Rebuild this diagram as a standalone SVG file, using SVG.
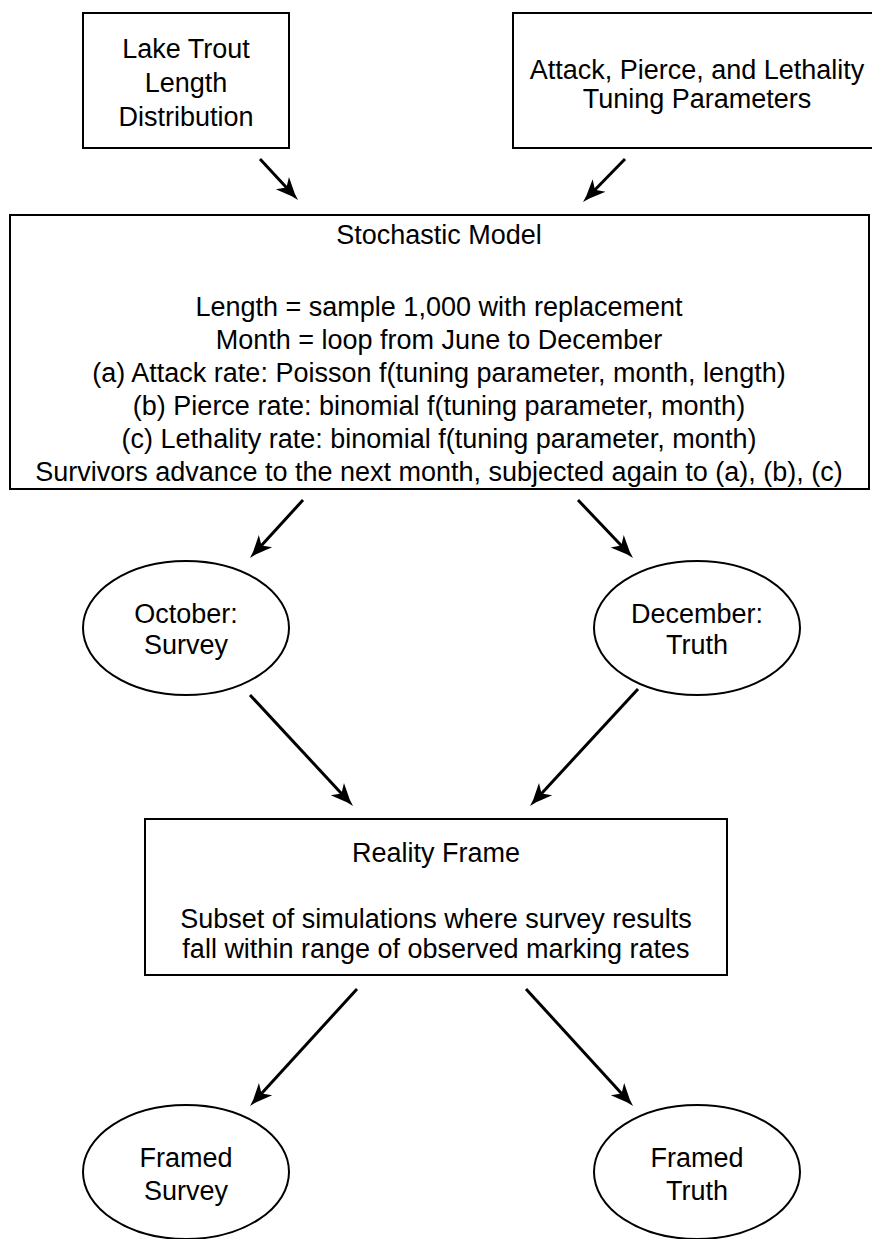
<svg xmlns="http://www.w3.org/2000/svg" width="872" height="1239" viewBox="0 0 872 1239">
<style>
.box{fill:#fff;stroke:#000;stroke-width:2}
.ell{fill:#fff;stroke:#000;stroke-width:2}
.t{font-family:"Liberation Sans",Arial,sans-serif;font-size:27px;fill:#000;text-anchor:middle}
.c{stroke:#000;stroke-width:3;fill:none;marker-end:url(#ah)}
</style>
<defs>
<marker id="ah" markerUnits="userSpaceOnUse" markerWidth="40" markerHeight="24" viewBox="-12 -12 40 24" refX="0" refY="0" orient="auto" overflow="visible">
<path d="M14,0 L7,-2 L-9,-9 L-3,0 L-9,9 L7,2 Z" fill="#000"/>
</marker>
</defs>
<rect width="872" height="1239" fill="#fff"/>
<g id="lake-trout">
<rect class="box" x="83" y="13" width="206" height="135"/>
<text class="t" x="186" y="58">Lake Trout</text>
<text class="t" x="186" y="92">Length</text>
<text class="t" x="186" y="126">Distribution</text>
</g>
<g id="tuning">
<rect class="box" x="513" y="13" width="368" height="135"/>
<text class="t" x="697" y="79">Attack, Pierce, and Lethality</text>
<text class="t" x="697" y="108">Tuning Parameters</text>
</g>
<g id="stochastic">
<rect class="box" x="10" y="215" width="859" height="274"/>
<text class="t" x="439" y="244">Stochastic Model</text>
<text class="t" x="439" y="316">Length = sample 1,000 with replacement</text>
<text class="t" x="439" y="349">Month = loop from June to December</text>
<text class="t" x="439" y="382">(a) Attack rate: Poisson f(tuning parameter, month, length)</text>
<text class="t" x="439" y="415">(b) Pierce rate: binomial f(tuning parameter, month)</text>
<text class="t" x="439" y="448">(c) Lethality rate: binomial f(tuning parameter, month)</text>
<text class="t" x="439" y="481">Survivors advance to the next month, subjected again to (a), (b), (c)</text>
</g>
<g id="october">
<ellipse class="ell" cx="186" cy="628" rx="103" ry="67"/>
<text class="t" x="186" y="623">October:</text>
<text class="t" x="186" y="654">Survey</text>
</g>
<g id="december">
<ellipse class="ell" cx="697" cy="628" rx="103" ry="67"/>
<text class="t" x="697" y="623">December:</text>
<text class="t" x="697" y="654">Truth</text>
</g>
<g id="reality">
<rect class="box" x="145" y="819" width="582" height="156"/>
<text class="t" x="436" y="862">Reality Frame</text>
<text class="t" x="436" y="928">Subset of simulations where survey results</text>
<text class="t" x="436" y="958">fall within range of observed marking rates</text>
</g>
<g id="framed-survey">
<ellipse class="ell" cx="186" cy="1172" rx="103" ry="67"/>
<text class="t" x="186" y="1167">Framed</text>
<text class="t" x="186" y="1200">Survey</text>
</g>
<g id="framed-truth">
<ellipse class="ell" cx="697" cy="1172" rx="103" ry="67"/>
<text class="t" x="697" y="1167">Framed</text>
<text class="t" x="697" y="1200">Truth</text>
</g>
<g id="connectors">
<line class="c" x1="260" y1="159" x2="288.5" y2="189.7"/>
<line class="c" x1="625" y1="159" x2="592.8" y2="192"/>
<line class="c" x1="303" y1="500" x2="259.4" y2="547.7"/>
<line class="c" x1="578" y1="500" x2="623.4" y2="547.8"/>
<line class="c" x1="250" y1="695" x2="343.5" y2="795.7"/>
<line class="c" x1="638" y1="689" x2="539.5" y2="795.7"/>
<line class="c" x1="357" y1="989" x2="259.5" y2="1095.7"/>
<line class="c" x1="526" y1="989" x2="623.6" y2="1095.7"/>
</g>
</svg>
